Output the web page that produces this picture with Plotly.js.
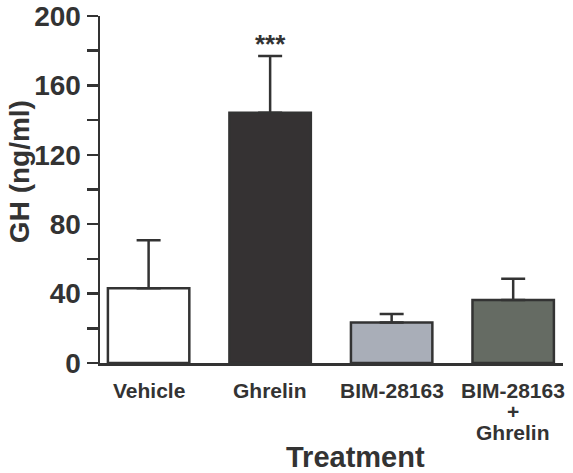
<!DOCTYPE html>
<html>
<head>
<meta charset="utf-8">
<script src="https://cdn.plot.ly/plotly-3.0.1.min.js"></script>
<style>html,body{margin:0;padding:0;background:#fff;}#chart{width:573px;height:473px;}</style>
</head>
<body>
<div id="chart"></div>
<script>
var categories = ["Vehicle", "Ghrelin", "BIM-28163", "BIM-28163\n+\nGhrelin"];
var gh = [43.1, 144.2, 23.4, 36.3];
var sem = [27.6, 32.8, 4.8, 12.2];
var barColors = ["#ffffff", "#353233", "#a9aeb8", "#656b63"];
var significance = ["", "***", "", ""];
var yTickVals = [0, 40, 80, 120, 160, 200];

var ink = "#333333";
var font = "Liberation Sans, Arial, Helvetica, sans-serif";
var xIdx = categories.map(function (c, i) { return i; });

var trace = {
  type: "bar",
  x: xIdx,
  y: gh,
  width: 0.67,
  marker: { color: barColors, line: { color: ink, width: 2.5 } },
  error_y: {
    type: "data", symmetric: false, array: sem,
    arrayminus: sem.map(function () { return 0; }),
    color: ink, thickness: 2.5, width: 12
  },
  hoverinfo: "none"
};

var annotations = [];
categories.forEach(function (c, i) {
  c.split("\n").forEach(function (line, j) {
    annotations.push({
      xref: "x", yref: "paper", x: i, y: 0, yanchor: "middle", xanchor: "center",
      yshift: -27 - j * 21, showarrow: false, text: "<b>" + line + "</b>",
      font: { family: font, size: 21, color: ink }
    });
  });
  if (significance[i]) {
    annotations.push({
      xref: "x", yref: "y", x: i, y: gh[i] + sem[i], yanchor: "bottom", xanchor: "center",
      yshift: -5, showarrow: false, text: "<b>" + significance[i] + "</b>",
      font: { family: font, size: 26, color: ink }
    });
  }
});
annotations.push({
  xref: "paper", yref: "paper", x: 0.551, y: 0, yanchor: "middle", xanchor: "center", yshift: -94,
  showarrow: false, text: "<b>Treatment</b>",
  font: { family: font, size: 29, color: ink }
});
annotations.push({
  xref: "paper", yref: "paper", x: 0, xshift: -81, y: 0.55, textangle: -90,
  xanchor: "center", yanchor: "middle",
  showarrow: false, text: "<b>GH (ng/ml)</b>",
  font: { family: font, size: 28, color: ink }
});

var layout = {
  width: 573, height: 473,
  margin: { l: 100, r: 10, t: 16, b: 110 },
  paper_bgcolor: "#ffffff", plot_bgcolor: "#ffffff",
  showlegend: false,
  xaxis: {
    range: [-0.4, 3.41], showticklabels: false, ticks: "",
    showline: true, linecolor: ink, linewidth: 2.5,
    showgrid: false, zeroline: false, fixedrange: true
  },
  yaxis: {
    range: [0, 200], tickvals: yTickVals,
    ticktext: yTickVals.map(function (v) { return "<b>" + v + "</b>"; }),
    ticks: "outside", ticklen: 11, tickwidth: 2.5, tickcolor: ink,
    minor: { dtick: 20, tick0: 0, ticks: "outside", ticklen: 11, tickwidth: 2.5, tickcolor: ink, showgrid: false },
    tickfont: { family: font, size: 28, color: ink },
    showline: true, linecolor: ink, linewidth: 2.5,
    showgrid: false, zeroline: false, fixedrange: true
  },
  annotations: annotations
};

Plotly.newPlot("chart", [trace], layout, { displayModeBar: false, staticPlot: true });
</script>
</body>
</html>
